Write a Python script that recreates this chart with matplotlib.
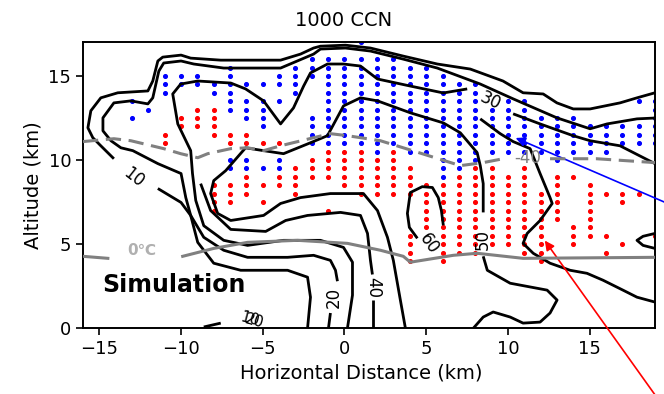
import numpy as np
import matplotlib
matplotlib.use("Agg")
import matplotlib.pyplot as plt

# ---- contour lines (x km, y km) ----
c10_upper_x = [19.0, 17.9, 16.86, 15.03, 14.0, 13.0, 12.16, 10.93, 9.7, 7.7, 5.68, 3.6, 1.59, 0.06,
               -1.47, -1.89, -2.69, -3.91, -7.57, -9.41, -10.0, -11.12, -11.42, -11.73, -12.03,
               -13.87, -14.91, -15.52, -15.7, -15.4, -14.91, -14.11]
c10_upper_y = [14.0, 13.7, 13.4, 13.04, 13.04, 13.4, 13.93, 14.0, 14.7, 15.41, 15.71, 16.18, 16.66, 16.83,
               16.77, 16.66, 16.3, 15.94, 15.94, 16.06, 16.24, 16.12, 15.89, 14.7, 14.11,
               14.0, 13.7, 12.93, 11.92, 11.33, 10.85, 10.08]
c10_lower_x = [-11.42, -10.0, -9.41, -8.98, -8.0, -6.35, -3.48, -2.26, -2.08, -2.26]
c10_lower_y = [8.31, 7.48, 6.71, 5.11, 3.87, 3.45, 3.45, 3.04, 1.85, 0.0]

c20_upper_x = [19.0, 17.9, 16.07, 15.03, 13.0, 10.32, 8.31, 5.68, 3.6, 1.59, 0.06, -1.47, -1.89, -3.91,
               -7.39, -9.22, -10.0, -11.06, -11.36, -11.73, -12.03, -13.07, -14.11, -14.78, -14.78,
               -14.29, -13.68, -12.95, -11.42, -10.0, -9.71, -9.41, -8.61, -7.39, -5.93, -3.48,
               -1.89, -0.86, -0.55, -0.43]
c20_upper_y = [12.5, 12.45, 12.15, 11.86, 12.51, 13.64, 14.52, 15.47, 16.0, 16.48, 16.66, 16.6, 16.3, 15.47,
               15.47, 15.71, 15.89, 15.77, 15.29, 13.7, 13.34, 13.52, 13.4, 12.51, 11.74,
               11.15, 10.73, 10.56, 9.79, 9.2, 7.77, 6.71, 5.41, 4.64, 4.22, 4.22,
               4.34, 4.04, 3.45, 2.8]
c20_lower_x = [-0.86, -0.98]
c20_lower_y = [0.91, 0.0]

c30_right_x = [19.0, 16.86, 15.03, 13.99, 11.97, 10.32]
c30_right_y = [9.79, 10.85, 11.15, 11.45, 12.15, 12.75]
c30_left_x = [7.51, 6.05, 4.03, 2.02, 0.98, -0.06, -1.04, -2.08, -2.5, -3.12, -3.91, -4.95, -6.05,
              -6.96, -8.98, -10.02, -10.51, -10.2, -9.41, -9.3, -9.1, -8.61, -7.39, -5.93, -3.73,
              -1.47, -0.06, 0.49, 0.49, 0.18]
c30_left_y = [14.23, 13.99, 14.4, 14.82, 15.59, 15.71, 15.71, 15.18, 14.4, 13.1, 12.15, 13.52, 14.23,
              14.58, 14.7, 14.52, 13.93, 12.15, 10.56, 9.2, 7.6, 6.1, 5.23, 4.93, 5.23,
              5.23, 4.81, 3.93, 1.97, 0.0]

c40_x = [-8.8, -8.19, -6.96, -4.82, -3.6, -2.26, -0.24, 0.98, 1.41, 1.59, 1.71]
c40_y = [8.6, 7.0, 5.88, 5.76, 6.41, 6.71, 6.89, 6.71, 5.64, 4.04, 3.2]
c40_lower_x = [1.77, 1.77]
c40_lower_y = [1.68, 0.0]

c50_x = [3.73, 3.42, 2.99, 2.63, 2.02, 1.16, -0.86, -2.69, -3.91, -4.95, -6.96, -7.76, -8.19, -8.0,
         -7.27, -6.05, -4.95, -3.73, -2.08, -1.04, -0.06, 0.98, 2.02, 4.03, 6.05, 7.09, 8.12, 8.31,
         8.49, 8.49]
c50_y = [0.0, 1.68, 4.04, 5.41, 7.0, 8.01, 8.01, 7.77, 7.42, 6.71, 6.41, 6.83, 8.01, 8.78,
         9.37, 10.73, 10.56, 10.38, 11.03, 11.45, 13.22, 13.7, 13.52, 12.81, 12.21, 11.62, 10.44, 9.67,
         8.6, 6.89]
c50_lower_x = [8.49, 8.74, 10.14, 12.4, 13.01, 12.58, 11.97, 10.93, 10.14, 9.1, 8.49, 7.88]
c50_lower_y = [4.28, 3.45, 2.68, 2.27, 1.68, 0.91, 0.37, 0.31, 0.67, 0.97, 0.67, 0.0]

c40_right_x = [8.31, 9.53, 10.32, 11.36, 11.97, 12.58, 12.71, 11.97, 11.18, 10.93, 11.55, 12.58,
               13.81, 14.84, 15.82, 17.04, 17.9, 19.0]
c40_right_y = [12.45, 11.57, 11.1, 10.68, 9.2, 7.77, 7.42, 6.41, 5.64, 5.05, 4.46, 3.87,
               3.45, 3.27, 2.86, 2.27, 1.85, 1.56]

c60_x = [4.46, 3.97, 3.85, 4.03, 4.76, 5.38, 5.74, 5.93, 6.05]
c60_y = [5.35, 6.0, 6.83, 8.07, 8.42, 8.37, 7.77, 7.0, 6.12]

edge_loop_x = [19.0, 18.27, 17.9, 18.27, 19.0]
edge_loop_y = [5.64, 5.47, 5.23, 4.93, 4.75]

bottom_piece_x = [-8.61, -7.57]
bottom_piece_y = [0.08, 0.31]

# isotherms
iso40_x = [-16.0, -14.11, -13.07, -11.06, -10.02, -8.98, -8.37, -6.96, -5.93, -4.95, -3.91, -1.89,
           -0.86, 0.18, 2.2, 3.6, 7.09, 8.49, 9.71]
iso40_y = [11.1, 11.27, 11.15, 10.68, 10.38, 10.14, 10.38, 10.68, 10.73, 10.56, 10.85, 11.33,
           11.57, 11.45, 11.15, 10.73, 9.67, 9.85, 10.08]
iso40_r_x = [12.58, 15.43, 19.0]
iso40_r_y = [10.08, 10.08, 9.85]
iso0_x = [-16.0, -14.48]
iso0_y = [4.28, 4.16]
iso0_r_x = [-9.9, -8.0, -5.93, -2.87, 0.18, 2.2, 3.6, 4.03, 6.66, 8.12, 10.93, 19.0]
iso0_r_y = [4.28, 4.75, 5.11, 5.23, 5.05, 4.64, 4.28, 3.93, 4.34, 4.46, 4.16, 4.22]

# ---- classified grid points: (x km, lowest y, highest y), rows every 0.5 km ----
BLUE_RUNS = [
    (-13, 12.5, 12.5), (-13, 13.5, 13.5), (-12, 13, 13),
    (-11, 14, 15), (-10, 14.5, 15), (-9, 14.5, 15), (-8, 14, 14.5),
    (-7, 13, 15.5), (-7, 9.5, 10),
    (-6, 12.5, 13.5), (-6, 14.5, 14.5), (-6, 9.5, 10),
    (-5, 12, 13.5), (-5, 14.5, 14.5), (-5, 9.5, 9.5),
    (-4, 13.5, 13.5), (-4, 14.5, 15), (-4, 9.5, 10),
    (-3, 14, 15.5), (-2, 11, 12.5), (-2, 15, 16),
    (-1, 11, 16), (0, 11, 16), (1, 11, 16), (1, 17, 17), (2, 10.5, 16), (3, 11, 16),
    (4, 10.5, 15.5), (5, 10.5, 15.5), (6, 9, 15), (7, 9.5, 14.5), (8, 10, 14.5),
    (9, 10.5, 13), (10, 10.5, 13.5), (11, 10.5, 13.5), (12, 10.5, 12.5), (13, 10, 12.5),
    (14, 10.5, 12.5), (15, 10.5, 12), (16, 10.5, 12), (17, 11, 12), (18, 11, 12),
    (18, 13.5, 13.5), (19, 11, 13.5),
]
RED_RUNS = [
    (-11, 11, 11.5), (-10, 12, 12.5), (-9, 12, 13), (-8, 11.5, 13),
    (-7, 11, 11.5), (-6, 11, 11.5), (-5, 11, 11), (-4, 11, 11),
    (-8, 7, 8.5), (-7, 7.5, 8.5), (-6, 8, 9), (-5, 7.5, 7.5), (-5, 8.5, 8.5),
    (-4, 8.5, 9), (-3, 8, 9.5), (-2, 9, 10), (-1, 9, 10.5), (-1, 7, 7),
    (0, 8.5, 10.5), (1, 8, 10.5), (2, 8, 10), (3, 8, 10.5), (4, 8, 9.5), (4, 4, 5.5),
    (5, 6, 8.5), (6, 4, 8.5), (7, 4.5, 9), (8, 4.5, 9.5), (9, 5, 9.5), (10, 5, 9),
    (11, 4.5, 9.5), (12, 4, 8), (13, 6.5, 9), (14, 5, 6), (14, 9, 9),
    (15, 5.5, 6.5), (15, 7, 8.5), (16, 4.5, 4.5), (16, 5.5, 5.5), (16, 8, 8),
    (17, 5, 5), (17, 7.5, 8), (18, 8, 8), (19, 5.5, 5.5),
]


def expand(runs):
    xs, ys = [], []
    for x, y0, y1 in runs:
        for y in np.arange(y0, y1 + 0.25, 0.5):
            xs.append(x)
            ys.append(y)
    return xs, ys


fig = plt.figure(figsize=(6.64, 3.94), dpi=100)
ax = fig.add_axes([0.125, 0.1667, 0.8614, 0.7259])

bx, by = expand(BLUE_RUNS)
rx, ry = expand(RED_RUNS)
ax.scatter(bx, by, s=7, color="blue", zorder=2)
ax.scatter(rx, ry, s=7, color="red", zorder=2)

line_kw = dict(color="black", lw=2.0, zorder=3, solid_capstyle="butt")
for xs, ys in [(c10_upper_x, c10_upper_y), (c10_lower_x, c10_lower_y),
               (c20_upper_x, c20_upper_y), (c20_lower_x, c20_lower_y),
               (c30_right_x, c30_right_y), (c30_left_x, c30_left_y),
               (c40_x, c40_y), (c40_lower_x, c40_lower_y),
               (c50_x, c50_y), (c50_lower_x, c50_lower_y),
               (c40_right_x, c40_right_y), (c60_x, c60_y),
               (edge_loop_x, edge_loop_y), (bottom_piece_x, bottom_piece_y)]:
    ax.plot(xs, ys, **line_kw)

ax.plot(iso40_x, iso40_y, color="gray", lw=2.2, ls=(0, (5, 2.5)), zorder=4)
ax.plot(iso40_r_x, iso40_r_y, color="gray", lw=2.2, ls=(0, (5, 2.5)), zorder=4)
ax.plot(iso0_x, iso0_y, color="gray", lw=2.2, zorder=4)
ax.plot(iso0_r_x, iso0_r_y, color="gray", lw=2.2, zorder=4)

lab_kw = dict(fontsize=12, ha="center", va="center", zorder=5)
ax.text(-12.9, 8.96, "10", rotation=-38, **lab_kw)
ax.text(8.92, 13.5, "30", rotation=-25, **lab_kw)
ax.text(-0.67, 1.85, "20", rotation=90, **lab_kw)
ax.text(1.77, 2.45, "40", rotation=-90, **lab_kw)
ax.text(8.49, 5.3, "50", rotation=90, **lab_kw)
ax.text(5.2, 5.05, "60", rotation=-55, **lab_kw)
ax.text(-5.8, 0.55, "10", rotation=-15, fontsize=11, ha="center", va="center")
ax.text(-5.5, 0.45, "20", rotation=-15, fontsize=11, ha="center", va="center")
ax.text(11.2, 10.1, "-40", color="gray", **lab_kw)
ax.text(-12.4, 4.6, "0\u2103", color="#b0b0b0", fontsize=11, fontweight="bold",
        ha="center", va="center")
ax.text(-14.8, 2.55, "Simulation", fontsize=17, fontweight="bold", ha="left", va="center")

ax.annotate("", xy=(10.32, 11.38), xytext=(20.54, 7.1),
            arrowprops=dict(arrowstyle="-|>", color="blue", lw=1.2, mutation_scale=14),
            annotation_clip=False)
ax.annotate("", xy=(12.16, 5.35), xytext=(19.3, -4.36),
            arrowprops=dict(arrowstyle="-|>", color="red", lw=1.2, mutation_scale=14),
            annotation_clip=False)

ax.set_xlim(-16, 19)
ax.set_ylim(0, 17)
ax.set_xticks([-15, -10, -5, 0, 5, 10, 15])
ax.set_yticks([0, 5, 10, 15])
ax.tick_params(labelsize=13, length=5, width=1.2)
for s in ax.spines.values():
    s.set_linewidth(1.4)
ax.set_title("1000 CCN", fontsize=14, x=0.456, pad=12)
ax.set_xlabel("Horizontal Distance (km)", fontsize=14, x=0.486)
ax.set_ylabel("Altitude (km)", fontsize=14)

fig.savefig("out.png", dpi=100)
